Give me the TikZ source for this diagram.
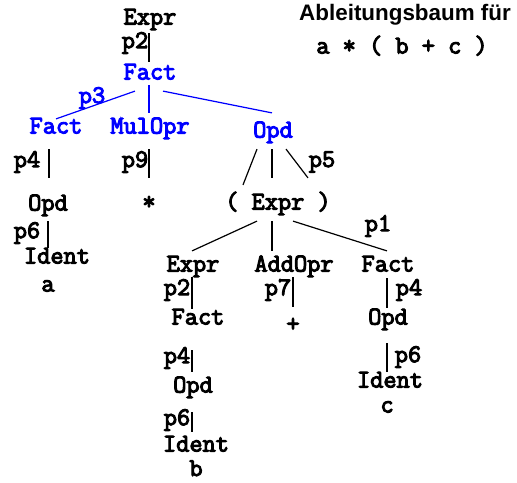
\documentclass[tikz,border=0pt]{standalone}
\usepackage{fontspec}
\setsansfont{Liberation Sans}
\setmonofont{Latin Modern Mono}[AutoFakeBold=4]
\usepackage{tikz}
\usetikzlibrary{positioning}
\usepackage{xcolor}
\definecolor{derivblue}{RGB}{0,0,255}

\begin{document}
\begin{tikzpicture}[x=0.5pt,y=-0.5pt,line width=0.6pt]
	\useasboundingbox (0,0) rectangle (517,482);
	\begin{scope}[every node/.style={inner sep=1pt,text height=6pt,text depth=1.5pt,font=\ttfamily\bfseries\fontsize{12.8}{14}\selectfont}]
		\node (e1) at (150,20) {Expr};
		\node[derivblue] (f1) at (150,75) {Fact};
		\node[derivblue] (f2) at (56,129) {Fact};
		\node[derivblue] (m1) at (150,129) {MulOpr};
		\node[derivblue] (o1) at (273,133) {Opd};
		\node (o2) at (48,206) {Opd};
		\node (st) at (149,205) {*};
		\node (e2) at (278,205) {( Expr )};
		\node (i1) at (57,259) {Ident};
		\node (va) at (48,287) {a};
		\node (e3) at (193,267) {Expr};
		\node (ad) at (294,267) {AddOpr};
		\node (f3) at (388,267) {Fact};
		\node (f4) at (198,320) {Fact};
		\node (pl) at (293,327) {+};
		\node (o3) at (388,320) {Opd};
		\node (o4) at (193,388) {Opd};
		\node (i3) at (390,383) {Ident};
		\node (vc) at (387,408) {c};
		\node (i4) at (196,447) {Ident};
		\node[inner sep=0pt,text height=7pt,text depth=0pt] (vb) at (196,469) {b};
		\node (word) at (402,49) {a * ( b + c )};
	\end{scope}
	\node[inner sep=0pt,font=\sffamily\bfseries\fontsize{11.2}{13}\selectfont] (title) at (405,15) {Ableitungsbaum für};
	% rule labels
	\begin{scope}[every node/.style={inner sep=0pt,font=\ttfamily\bfseries\fontsize{12.8}{14}\selectfont}]
		\node (r1) at (135,43) {p2};
		\node[derivblue] (r2) at (92,98) {p3};
		\node (r3) at (27,162) {p4};
		\node (r4) at (135,162) {p9};
		\node (r5) at (322,162) {p5};
		\node (r6) at (27,233) {p6};
		\node (r7) at (378,226) {p1};
		\node (r8) at (177,290) {p2};
		\node (r9) at (278,290) {p7};
		\node (r10) at (409,290) {p4};
		\node (r11) at (177,358) {p4};
		\node (r12) at (408,357) {p6};
		\node (r13) at (177,420) {p6};
	\end{scope}
	\draw ([shift={(-1,3)}]e1.south) -- ([shift={(-1,-3)}]f1.north);
	\begin{scope}[derivblue]
		\draw ([shift={(-15,6)}]f1.south) -- (f2.north);
		\draw ([shift={(-1,0)}]f1.south) -- ([shift={(-1,-6)}]m1.north);
		\draw ([shift={(13,6)}]f1.south) -- ([shift={(-1,-10)}]o1.north);
	\end{scope}
	\draw ([shift={(-7,10)}]f2.south) -- ([shift={(1,-18)}]o2.north);
	\draw ([shift={(-1,10)}]m1.south) -- ([shift={(0,-17)}]st.north);
	\draw ([shift={(-16,6)}]o1.south) -- ([shift={(-35,-10)}]e2.north);
	\draw ([shift={(-1,6)}]o1.south) -- ([shift={(-6,-17)}]e2.north);
	\draw ([shift={(13,6)}]o1.south) -- ([shift={(30,-17)}]e2.north);
	\draw ([shift={(0,5)}]o2.south) -- ([shift={(-9,-1)}]i1.north);
	\draw ([shift={(-21,6)}]e2.south) -- ([shift={(-1,-6)}]e3.north);
	\draw ([shift={(-6,6)}]e2.south) -- ([shift={(-22,-6)}]ad.north);
	\draw ([shift={(15,6)}]e2.south) -- ([shift={(-1,-6)}]f3.north);
	\draw ([shift={(-1,0)}]e3.south) -- ([shift={(-6,-1)}]f4.north);
	\draw ([shift={(-1,0)}]ad.south) -- ([shift={(0,-10)}]pl.north);
	\draw ([shift={(-1,1)}]f3.south) -- ([shift={(-1,-2)}]o3.north);
	\draw ([shift={(-6,20)}]f4.south) -- ([shift={(-1,-6)}]o4.north);
	\draw ([shift={(-1,14)}]o4.south) -- ([shift={(-4,-5)}]i4.north);
	\draw ([shift={(-1,13)}]o3.south) -- ([shift={(-3,-1)}]i3.north);
\end{tikzpicture}
\end{document}
